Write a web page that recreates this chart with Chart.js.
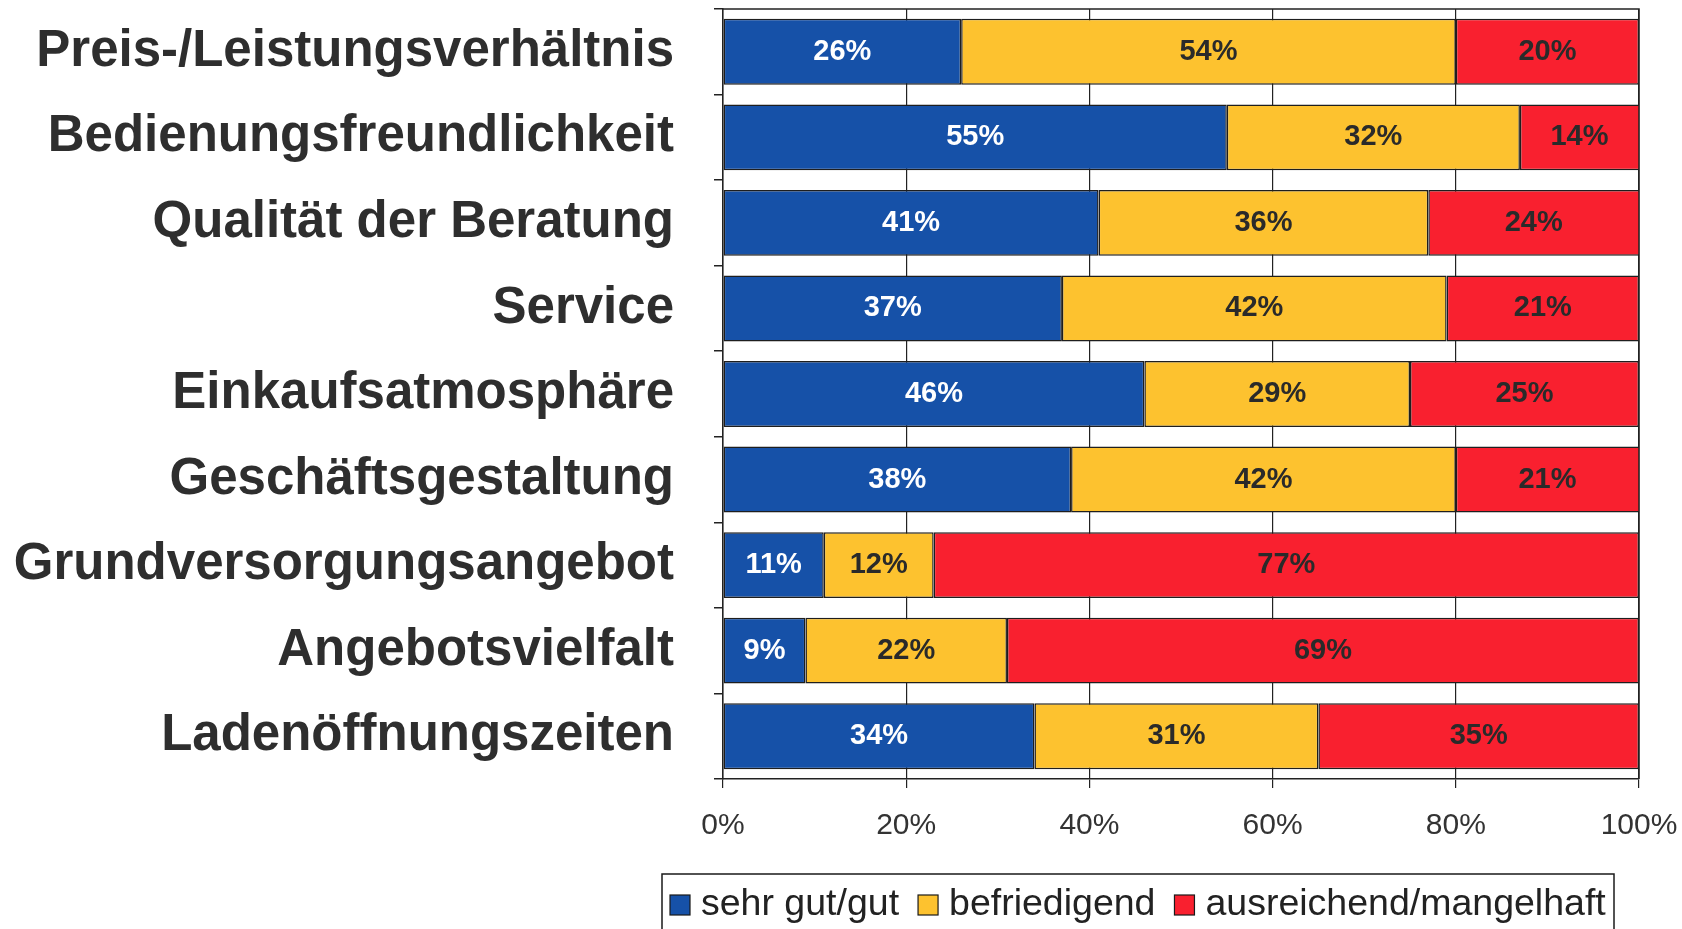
<!DOCTYPE html>
<html>
<head>
<meta charset="utf-8">
<script src="https://cdn.jsdelivr.net/npm/chart.js@4"></script>
<style>
  html, body { margin: 0; padding: 0; background: #ffffff; }
  #wrap { width: 1682px; height: 929px; }
</style>
</head>
<body>
<div id="wrap"><canvas id="c" width="1682" height="929"></canvas></div>
<script>
const categories = [
  'Preis-/Leistungsverhältnis',
  'Bedienungsfreundlichkeit',
  'Qualität der Beratung',
  'Service',
  'Einkaufsatmosphäre',
  'Geschäftsgestaltung',
  'Grundversorgungsangebot',
  'Angebotsvielfalt',
  'Ladenöffnungszeiten'
];
const seriesNames = ['sehr gut/gut', 'befriedigend', 'ausreichend/mangelhaft'];
const sehrGut      = [26, 55, 41, 37, 46, 38, 11,  9, 34];
const befriedigend = [54, 32, 36, 42, 29, 42, 12, 22, 31];
const ausreichend  = [20, 14, 24, 21, 25, 21, 77, 69, 35];
const xTickValues  = [0, 20, 40, 60, 80, 100];

const colors = ['#1651A8', '#FDC22F', '#F9202F'];
const labelColors = ['#ffffff', '#2a2a2a', '#2a2a2a'];
const FONT = "'Liberation Sans', Arial, sans-serif";
Chart.defaults.font.family = FONT;

const valueLabels = {
  id: 'valueLabels',
  afterDatasetsDraw(chart) {
    const ctx = chart.ctx, area = chart.chartArea;
    ctx.save();
    ctx.font = 'bold 29px ' + FONT;
    ctx.textAlign = 'center';
    ctx.textBaseline = 'middle';
    chart.data.datasets.forEach((ds, i) => {
      const meta = chart.getDatasetMeta(i);
      meta.data.forEach((el, j) => {
        const l = Math.max(Math.min(el.base, el.x), area.left);
        const r = Math.min(Math.max(el.base, el.x), area.right);
        ctx.fillStyle = labelColors[i];
        ctx.fillText(ds.data[j] + '%', (l + r) / 2, el.y);
      });
    });
    // frame top + right
    ctx.strokeStyle = '#222';
    ctx.lineWidth = 1.5;
    ctx.beginPath();
    ctx.moveTo(area.left, area.top);
    ctx.lineTo(area.right, area.top);
    ctx.lineTo(area.right, area.bottom);
    ctx.stroke();
    ctx.restore();
  }
};

const boxLegend = {
  id: 'boxLegend',
  afterDraw(chart) {
    const ctx = chart.ctx;
    ctx.save();
    ctx.font = '37.5px ' + FONT;
    ctx.textBaseline = 'middle';
    const cy = 905;
    ctx.strokeStyle = '#1a1a1a';
    ctx.lineWidth = 1.5;
    ctx.strokeRect(662, 874, 952, 80);
    let x = 670;
    chart.data.datasets.forEach((ds, i) => {
      ctx.fillStyle = colors[i];
      ctx.fillRect(x, cy - 10, 20, 20);
      ctx.strokeStyle = '#1a1a1a';
      ctx.lineWidth = 1.2;
      ctx.strokeRect(x, cy - 10, 20, 20);
      x += 31;
      ctx.fillStyle = '#222';
      ctx.fillText(ds.label, x, cy);
      x += ctx.measureText(ds.label).width + 19;
    });
    ctx.restore();
  }
};

const seriesData = [sehrGut, befriedigend, ausreichend];

new Chart(document.getElementById('c'), {
  type: 'bar',
  data: {
    labels: categories,
    datasets: seriesNames.map((name, i) => ({
      label: name,
      data: seriesData[i],
      backgroundColor: colors[i],
      borderColor: '#1e1e1e',
      borderWidth: 1.5,
      borderSkipped: false,
      barPercentage: 0.77,
      categoryPercentage: 1,
      clip: 0
    }))
  },
  options: {
    indexAxis: 'y',
    responsive: false,
    animation: false,
    layout: { padding: { top: 9, right: 43, bottom: 0, left: 0 } },
    plugins: {
      legend: { display: false },
      tooltip: { enabled: false }
    },
    scales: {
      x: {
        stacked: true,
        min: 0,
        max: 100,
        afterBuildTicks: (s) => { s.ticks = xTickValues.map(v => ({ value: v })); },
        ticks: {
          callback: (v) => v + '%',
          font: { size: 30 },
          color: '#333',
          padding: 20,
          maxRotation: 0
        },
        grid: { color: '#222', lineWidth: 1.2, tickLength: 9 },
        border: { display: true, color: '#222', width: 1.5 },
        afterFit: (s) => {
          s.height = 150;
          s.paddingLeft = 0; s.paddingRight = 0; s.paddingTop = 0; s.paddingBottom = 0;
        }
      },
      y: {
        stacked: true,
        grid: { offset: true, drawOnChartArea: false, tickLength: 9, color: '#222', lineWidth: 1.5 },
        border: { display: true, color: '#222', width: 1.5 },
        ticks: {
          font: { size: 51, weight: 'bold' },
          color: '#2e2e2e',
          padding: 40
        },
        afterFit: (s) => {
          s.width = 723;
          s.paddingLeft = 0; s.paddingRight = 0; s.paddingTop = 0; s.paddingBottom = 0;
        }
      }
    }
  },
  plugins: [valueLabels, boxLegend]
});
</script>
</body>
</html>
